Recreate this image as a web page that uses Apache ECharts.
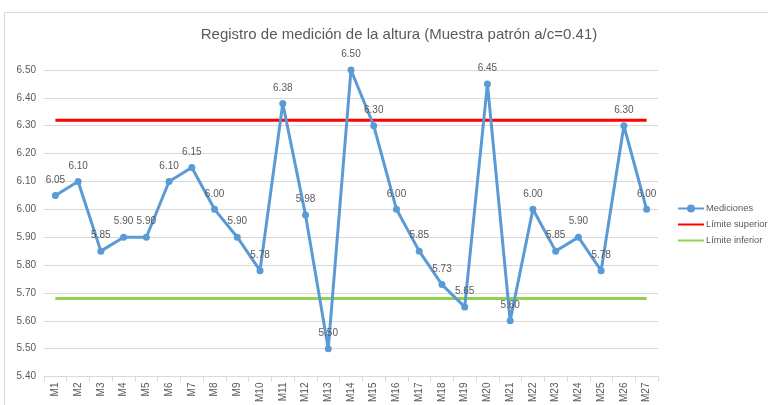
<!DOCTYPE html>
<html>
<head>
<meta charset="utf-8">
<script src="https://cdn.jsdelivr.net/npm/echarts@6/dist/echarts.min.js"></script>
<style>
  html, body { margin: 0; padding: 0; background: #fff; }
  #chart { width: 768px; height: 405px; }
</style>
</head>
<body>
<div id="chart"></div>
<script>
// Muestras medidas
const categories = ['M1','M2','M3','M4','M5','M6','M7','M8','M9','M10','M11','M12','M13','M14',
  'M15','M16','M17','M18','M19','M20','M21','M22','M23','M24','M25','M26','M27'];
// Alturas medidas
const mediciones = [6.05, 6.10, 5.85, 5.90, 5.90, 6.10, 6.15, 6.00, 5.90, 5.78, 6.38, 5.98, 5.50, 6.50,
  6.30, 6.00, 5.85, 5.73, 5.65, 6.45, 5.60, 6.00, 5.85, 5.90, 5.78, 6.30, 6.00];
// Límites de control
const limiteSuperior = 6.32;
const limiteInferior = 5.68;
const yTicks = [5.40, 5.50, 5.60, 5.70, 5.80, 5.90, 6.00, 6.10, 6.20, 6.30, 6.40, 6.50];

const FONT = 'Liberation Sans';
const chart = echarts.init(document.getElementById('chart'));
chart.setOption({
  animation: false,
  textStyle: { fontFamily: FONT },
  title: {
    text: 'Registro de medición de la altura (Muestra patrón a/c=0.41)',
    left: 394, top: 22, textAlign: 'center',
    textStyle: { fontFamily: FONT, fontSize: 15, fontWeight: 'normal', color: '#595959' }
  },
  graphic: [{
    type: 'rect', shape: { x: 4.5, y: 12.5, width: 800, height: 500 },
    style: { fill: 'none', stroke: '#d9d9d9', lineWidth: 1 }, silent: true
  }],
  legend: {
    orient: 'vertical', left: 672, top: 199, itemWidth: 26, itemHeight: 10, itemGap: 7,
    textStyle: { fontFamily: FONT, fontSize: 9.3, color: '#595959', padding: [0, 0, 0, -3] },
    data: [
      'Mediciones',
      { name: 'Límite superior', itemStyle: { opacity: 0 } },
      { name: 'Límite inferior', itemStyle: { opacity: 0 } }
    ]
  },
  grid: { left: 44, right: 110, top: 70, bottom: 27 },
  xAxis: {
    type: 'category', data: categories, boundaryGap: true,
    axisLine: { lineStyle: { color: '#d9d9d9' } },
    axisTick: { show: true, length: 5, lineStyle: { color: '#d9d9d9' } },
    axisLabel: { rotate: 90, fontSize: 10, color: '#595959', margin: 6, interval: 0 }
  },
  yAxis: {
    type: 'value', min: yTicks[0], max: yTicks[yTicks.length - 1], interval: 0.1,
    axisLine: { show: false }, axisTick: { show: false },
    splitLine: { lineStyle: { color: '#d9d9d9' } },
    axisLabel: { fontSize: 10, color: '#595959', margin: 8, formatter: v => v.toFixed(2) }
  },
  series: [
    {
      name: 'Mediciones', type: 'line', data: mediciones,
      symbol: 'circle', symbolSize: 7, z: 3,
      lineStyle: { color: '#5b9bd5', width: 3 },
      itemStyle: { color: '#5b9bd5' },
      label: { show: true, position: 'top', distance: 7, fontSize: 10, color: '#595959',
        fontFamily: FONT, formatter: p => p.value.toFixed(2) }
    },
    {
      name: 'Límite superior', type: 'line', data: categories.map(() => limiteSuperior),
      symbol: 'none', z: 2, lineStyle: { color: '#ff0000', width: 3 }, itemStyle: { color: '#ff0000' }
    },
    {
      name: 'Límite inferior', type: 'line', data: categories.map(() => limiteInferior),
      symbol: 'none', z: 2, lineStyle: { color: '#92d050', width: 3 }, itemStyle: { color: '#92d050' }
    }
  ]
});
</script>
</body>
</html>
